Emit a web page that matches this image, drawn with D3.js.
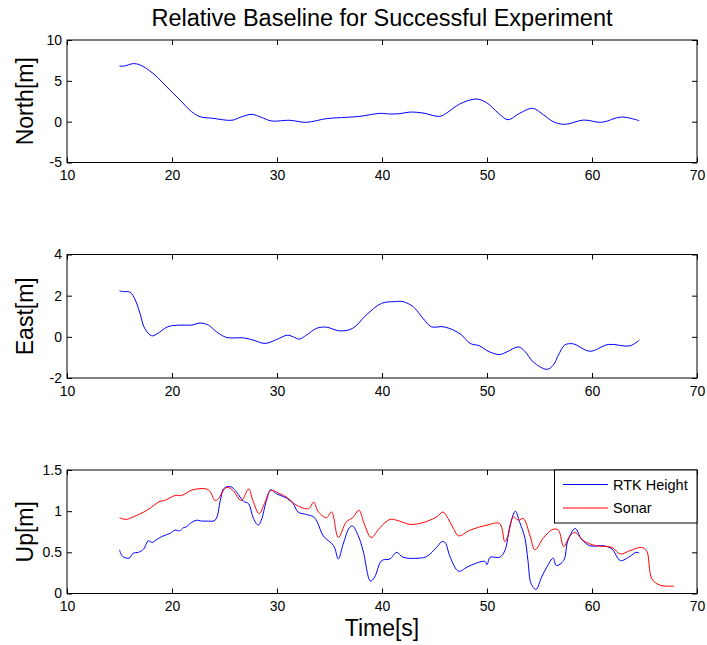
<!DOCTYPE html>
<html>
<head>
<meta charset="utf-8">
<script src="https://cdn.jsdelivr.net/npm/d3@7/dist/d3.min.js"></script>
<style>
  html, body { margin: 0; padding: 0; background: #fff; }
  svg text { font-family: "Liberation Sans", Arial, Helvetica, sans-serif; fill: #000; }
</style>
</head>
<body>
<svg id="chart" width="707" height="645"></svg>
<script>
// ---- data ----------------------------------------------------------------
const xTicks = [10, 20, 30, 40, 50, 60, 70];
const northTicks = [-5, 0, 5, 10];
const eastTicks = [-2, 0, 2, 4];
const upTicks = [0, 0.5, 1, 1.5];

const northT = [15.0, 15.4, 16.3, 16.95, 18.2, 19.8, 20.76, 21.87, 22.67, 23.9, 25.7, 26.5, 27.6, 28.5,
  29.5, 31.2, 32.8, 34.7, 36.6, 37.9, 39.8, 40.76, 41.7, 42.67, 43.9, 45.5, 46.2, 47.4, 48.95, 49.97,
  51.1, 52.0, 53.1, 54.35, 55.4, 56.3, 57.4, 59.2, 60.9, 62.8, 64.5];
const northV = [6.83, 6.8, 7.1, 6.95, 5.9, 3.87, 2.65, 1.22, 0.61, 0.41, 0.17, 0.53, 0.9, 0.53,
  0.08, 0.17, -0.08, 0.37, 0.53, 0.65, 1.02, 0.94, 0.98, 1.18, 1.06, 0.65, 1.1, 2.16, 2.77, 2.32,
  1.02, 0.24, 1.02, 1.63, 0.82, 0.0, -0.33, 0.2, -0.08, 0.57, 0.12];

const eastT = [15.0, 15.3, 16.0, 16.5, 16.95, 17.4, 18.07, 18.5, 19.6, 20.76, 21.87, 22.67, 23.46,
  24.25, 25.2, 26.8, 27.75, 28.86, 29.97, 30.98, 31.55, 32.1, 32.8, 33.75, 34.7, 35.96, 37.2, 38.5,
  39.97, 41.2, 42.0, 42.98, 43.9, 44.7, 45.8, 46.8, 47.6, 48.4, 49.3, 50.1, 51.2, 51.9, 53.0, 53.6,
  54.4, 55.7, 56.3, 56.8, 57.4, 58.2, 59.8, 61.55, 63.6, 64.5];
const eastV = [2.24, 2.2, 2.17, 1.79, 1.14, 0.41, 0.05, 0.12, 0.49, 0.57, 0.57, 0.67, 0.57,
  0.24, -0.03, -0.05, -0.16, -0.32, -0.13, 0.08, 0.0, -0.11, 0.08, 0.41, 0.47, 0.29, 0.41, 1.06,
  1.63, 1.71, 1.71, 1.46, 0.9, 0.49, 0.49, 0.33, 0.08, -0.32, -0.44, -0.7, -0.86, -0.73, -0.49, -0.7,
  -1.22, -1.58, -1.38, -0.89, -0.4, -0.34, -0.7, -0.37, -0.44, -0.16];

const rtkT = [15.0, 15.3, 15.93, 16.3, 16.8, 17.3, 17.75, 18.1, 18.6, 19.0, 19.4, 19.8, 20.3, 20.7,
  21.1, 21.4, 21.7, 22.35, 22.8, 23.3, 24.1, 24.6, 24.9, 25.36, 25.7, 26.16, 26.8, 27.3, 27.7, 28.2,
  28.5, 29.0, 29.4, 29.97, 30.9, 31.55, 32.0, 32.8, 33.5, 33.9, 34.4, 35.4, 35.84, 36.3, 36.9, 37.2,
  37.74, 38.2, 38.9, 39.3, 39.97, 40.76, 41.4, 42.0, 43.6, 44.26, 45.2, 45.7, 46.0, 46.5, 47.3, 48.1,
  49.0, 49.8, 50.0, 50.3, 51.2, 51.7, 52.2, 52.7, 53.1, 53.6, 53.9, 54.2, 54.67, 55.2, 55.7, 56.3,
  56.6, 57.3, 57.7, 58.4, 59.0, 59.8, 61.1, 61.9, 62.7, 63.6, 64.2, 64.5];
const rtkV = [0.53, 0.45, 0.43, 0.49, 0.5, 0.54, 0.64, 0.62, 0.66, 0.69, 0.71, 0.73, 0.77, 0.76,
  0.8, 0.81, 0.85, 0.89, 0.88, 0.88, 0.89, 1.13, 1.27, 1.3, 1.29, 1.23, 1.12, 1.09, 0.93, 0.83,
  0.89, 1.13, 1.26, 1.21, 1.16, 1.09, 0.99, 0.96, 0.93, 0.85, 0.7, 0.58, 0.42, 0.6, 0.8, 0.82,
  0.7, 0.52, 0.15, 0.2, 0.4, 0.42, 0.5, 0.44, 0.43, 0.45, 0.56, 0.63, 0.62, 0.44, 0.27, 0.32,
  0.37, 0.39, 0.35, 0.44, 0.44, 0.52, 0.83, 1.0, 0.87, 0.68, 0.4, 0.12, 0.05, 0.2, 0.32, 0.43,
  0.34, 0.4, 0.64, 0.79, 0.66, 0.58, 0.58, 0.54, 0.4, 0.45, 0.5, 0.49];

const sonarT = [15.0, 15.6, 16.3, 17.6, 18.86, 19.3, 20.3, 20.9, 22.0, 23.46, 24.1, 24.4, 25.2, 25.8,
  26.6, 27.3, 27.7, 28.3, 28.86, 29.4, 30.3, 30.9, 31.9, 33.0, 33.5, 33.9, 34.7, 35.2, 35.84, 36.6,
  37.2, 37.8, 38.3, 38.97, 39.8, 40.76, 41.4, 42.67, 43.9, 45.2, 45.8, 46.3, 46.8, 47.3, 48.4, 50.0,
  51.2, 51.7, 52.0, 52.5, 52.98, 53.46, 54.1, 54.57, 55.4, 56.3, 56.8, 57.3, 57.9, 58.4, 59.2, 60.4,
  61.9, 62.7, 63.6, 64.7, 65.2, 65.7, 66.5, 67.8];
const sonarV = [0.92, 0.9, 0.93, 1.01, 1.12, 1.13, 1.19, 1.19, 1.26, 1.26, 1.13, 1.15, 1.29, 1.25,
  1.13, 1.27, 1.13, 0.97, 1.11, 1.25, 1.21, 1.17, 1.07, 1.03, 1.11, 1.0, 0.92, 0.99, 0.68, 0.87,
  0.92, 1.01, 0.85, 0.68, 0.8, 0.9, 0.89, 0.84, 0.86, 0.93, 0.99, 0.91, 0.79, 0.7, 0.77, 0.83,
  0.85, 0.63, 0.7, 0.93, 0.89, 0.91, 0.7, 0.53, 0.68, 0.78, 0.77, 0.57, 0.7, 0.74, 0.64, 0.58,
  0.56, 0.48, 0.52, 0.56, 0.52, 0.18, 0.1, 0.09];

const titleText = "Relative Baseline for Successful Experiment";
const xLabel = "Time[s]";
const legendNames = ["RTK Height", "Sonar"];

// ---- layout --------------------------------------------------------------
const svg = d3.select("#chart");
const left = 67, right = 697;
const x = d3.scaleLinear().domain([10, 70]).range([left, right]);

const panels = [
  { top: 40, bottom: 162.5, domain: [-5, 10], ticks: northTicks, label: "North[m]",
    series: [{ t: northT, v: northV, color: "#0000ff" }] },
  { top: 254.5, bottom: 378, domain: [-2, 4], ticks: eastTicks, label: "East[m]",
    series: [{ t: eastT, v: eastV, color: "#0000ff" }] },
  { top: 470, bottom: 593.5, domain: [0, 1.5], ticks: upTicks, label: "Up[m]",
    series: [{ t: rtkT, v: rtkV, color: "#0000ff" },
             { t: sonarT, v: sonarV, color: "#ff0000" }] }
];

svg.append("text")
  .attr("x", (left + right) / 2).attr("y", 26)
  .attr("text-anchor", "middle").style("font-size", "23.5px")
  .text(titleText);

panels.forEach((p, i) => {
  const y = d3.scaleLinear().domain(p.domain).range([p.bottom, p.top]);
  const g = svg.append("g");

  // lines
  p.series.forEach(s => {
    const line = d3.line().x(d => x(d[0])).y(d => y(d[1])).curve(d3.curveCatmullRom);
    g.append("path")
      .datum(s.t.map((t, k) => [t, s.v[k]]))
      .attr("fill", "none").attr("stroke", s.color).attr("stroke-width", 1)
      .attr("d", line);
  });

  // axes with inward ticks on all four sides
  const styleAxis = sel => {
    sel.select(".domain").remove();
    sel.selectAll(".tick line").attr("stroke", "#000");
    sel.selectAll(".tick text").style("font-size", "14px")
      .style("font-family", "'Liberation Sans', Arial, sans-serif").attr("fill", "#000");
  };
  g.append("g").attr("transform", `translate(0,${p.bottom})`)
    .call(d3.axisBottom(x).tickValues(xTicks).tickSize(-5).tickPadding(8).tickFormat(d3.format("d")))
    .call(styleAxis);
  g.append("g").attr("transform", `translate(0,${p.top})`)
    .call(d3.axisTop(x).tickValues(xTicks).tickSize(-5).tickFormat(""))
    .call(styleAxis);
  g.append("g").attr("transform", `translate(${left},0)`)
    .call(d3.axisLeft(y).tickValues(p.ticks).tickSize(-5).tickPadding(5).tickFormat(d => String(d)))
    .call(styleAxis);
  g.append("g").attr("transform", `translate(${right},0)`)
    .call(d3.axisRight(y).tickValues(p.ticks).tickSize(-5).tickFormat(""))
    .call(styleAxis);

  g.append("rect")
    .attr("x", left).attr("y", p.top)
    .attr("width", right - left).attr("height", p.bottom - p.top)
    .attr("fill", "none").attr("stroke", "#000").attr("stroke-width", 1);

  svg.append("text")
    .attr("transform", `translate(33,${(p.top + p.bottom) / 2}) rotate(-90)`)
    .attr("text-anchor", "middle").style("font-size", "23px")
    .text(p.label);

  // legend on the last panel
  if (i === 2) {
    const lg = svg.append("g");
    lg.append("rect")
      .attr("x", 554.5).attr("y", p.top).attr("width", right - 554.5).attr("height", 53)
      .attr("fill", "#fff").attr("stroke", "#000").attr("stroke-width", 1);
    const colors = ["#0000ff", "#ff0000"];
    legendNames.forEach((name, k) => {
      const ly = p.top + 14.5 + k * 23.5;
      lg.append("line").attr("x1", 563).attr("x2", 608).attr("y1", ly).attr("y2", ly)
        .attr("stroke", colors[k]).attr("stroke-width", 1);
      lg.append("text").attr("x", 613).attr("y", ly).attr("dy", "0.35em")
        .style("font-size", "14.5px").text(name);
    });
  }
});

svg.append("text")
  .attr("x", (left + right) / 2).attr("y", 636)
  .attr("text-anchor", "middle").style("font-size", "23px")
  .text(xLabel);
</script>
</body>
</html>
